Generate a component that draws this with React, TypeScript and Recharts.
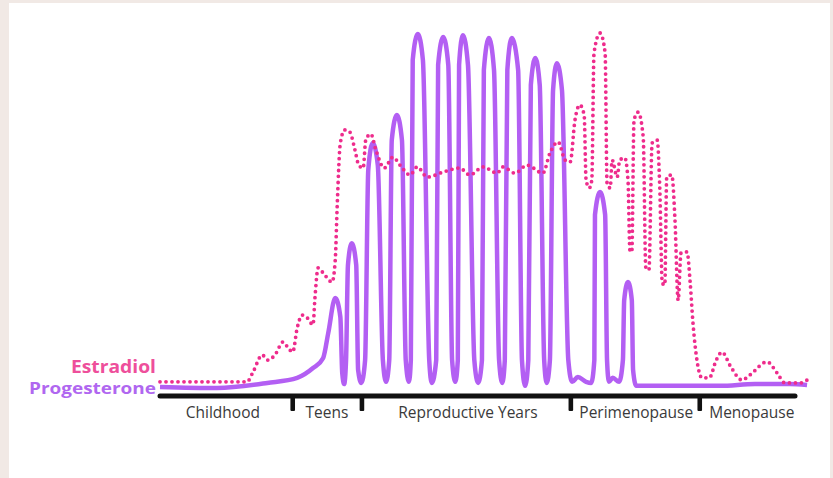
import { LineChart, Line, XAxis, YAxis, ReferenceLine } from "recharts";

// timeline units: 0 = left end of the axis line, 100 = right end of the axis line
// level units: 0 = axis line, 100 = highest peak

// progesterone (solid purple), [time, level]
const progesterone: [number, number][] = [
  [0, 2.5], [9.0, 2.2], [16.9, 3.6], [21.6, 5.0], [24.1, 7.7], [25.7, 10.5],
  [26.5, 17.4], [27.6, 27.0], [28.4, 21.8], [28.7, 6.3], [29.0, 3.3],
  [29.3, 9.9], [29.6, 36.1], [30.2, 42.1], [30.9, 36.1], [31.2, 7.2], [31.7, 3.6],
  [32.3, 9.9], [32.8, 62.3], [33.5, 69.7], [34.3, 63.6], [35.1, 9.9], [35.6, 3.9],
  [36.1, 9.9], [36.5, 70.5], [37.3, 77.4], [38.1, 70.5], [38.7, 9.9], [39.2, 3.9],
  [39.5, 9.9], [39.8, 92.6], [40.6, 99.7], [41.4, 92.6], [42.4, 9.9], [42.8, 3.6],
  [43.5, 9.9], [43.8, 91.2], [44.6, 98.9], [45.4, 91.2], [46.0, 9.9], [46.5, 3.9],
  [46.9, 9.9], [47.1, 91.2], [47.7, 99.4], [48.5, 91.2], [49.5, 9.9], [50.1, 3.6],
  [50.7, 9.9], [51.0, 89.8], [51.8, 98.6], [52.6, 89.8], [53.4, 9.9], [53.9, 3.6],
  [54.3, 9.9], [54.7, 89.8], [55.4, 98.6], [56.4, 89.8], [57.0, 9.9], [57.5, 2.8],
  [58.0, 9.9], [58.4, 85.7], [59.1, 93.1], [59.8, 85.7], [60.5, 9.9], [60.9, 3.6],
  [61.4, 9.9], [61.9, 84.3], [62.5, 91.7], [63.3, 84.3], [64.3, 9.9], [64.9, 3.9],
  [65.8, 5.2], [67.1, 3.9], [67.9, 3.6],
  [68.4, 9.9], [68.5, 49.9], [69.3, 56.2], [70.1, 49.9], [70.4, 9.9], [70.7, 3.9],
  [71.3, 5.0], [72.3, 3.9],
  [72.9, 9.9], [73.1, 26.4], [73.7, 31.4], [74.3, 26.4], [74.5, 7.2], [75.0, 2.8],
  [81.9, 2.8], [88.2, 2.8], [93.7, 3.3], [99.2, 3.3], [101.9, 3.0],
];

// estradiol (dotted pink), [time, level]
const estradiol: [number, number][] = [
  [0, 3.9], [13.7, 3.9], [14.65, 6.6], [16.1, 11.3], [17.0, 9.9], [18.1, 11.3],
  [19.4, 14.9], [20.2, 13.2], [20.9, 12.1], [21.6, 18.7], [22.4, 22.3], [23.2, 21.5],
  [24.1, 19.6], [24.4, 27.0], [24.9, 35.3], [25.7, 33.9], [27.1, 31.4], [27.6, 37.5],
  [27.9, 52.1], [28.4, 69.7], [29.1, 73.3], [29.9, 72.7], [30.7, 67.8], [31.3, 63.6],
  [32.0, 62.8], [32.4, 70.5], [33.2, 72.2], [34.0, 67.8], [35.3, 62.8], [36.7, 65.8],
  [37.8, 63.6], [39.4, 60.9], [40.5, 63.1], [42.1, 60.3], [44.6, 61.7], [47.2, 62.8],
  [48.8, 60.9], [50.9, 63.1], [53.1, 61.4], [54.0, 63.1], [55.9, 61.4], [57.8, 63.6],
  [60.3, 61.4], [61.4, 66.9], [62.7, 70.0], [63.8, 65.0], [64.6, 64.5], [65.35, 76.0],
  [66.1, 80.2], [66.8, 77.4], [67.1, 59.5], [67.6, 57.3], [68.0, 59.5], [68.35, 94.5],
  [69.3, 100], [70.1, 94.5], [70.4, 58.7], [70.9, 57.3], [71.2, 65.0], [72.0, 60.3],
  [72.4, 65.0], [73.2, 65.6], [73.7, 59.5], [74.0, 40.2], [74.3, 39.7], [74.65, 76.0],
  [75.3, 78.2], [76.1, 71.3], [76.5, 35.5], [77.0, 34.7], [77.5, 69.7], [78.3, 70.5],
  [78.7, 57.6], [79.1, 31.1], [79.5, 30.6], [79.8, 60.3], [80.6, 60.9], [81.1, 48.5],
  [81.6, 26.4], [82.05, 39.4], [83.0, 39.7], [83.5, 31.1], [83.9, 20.9], [84.6, 9.4],
  [85.35, 5.0], [86.5, 5.0], [87.6, 9.9], [88.5, 12.1], [89.9, 8.0], [91.65, 4.4],
  [92.9, 5.8], [95.6, 9.4], [97.2, 6.3], [98.4, 3.6], [100.8, 3.6], [101.9, 4.4],
];

// life stages along the axis
const stageNames = ["Childhood", "Teens", "Reproductive Years", "Perimenopause", "Menopause"];
const stageCenters = [9.9, 26.3, 48.5, 75.0, 93.2];
const stageBounds = [20.9, 31.8, 64.7, 85.0];

const PURPLE = "#b35ff3";
const PINK = "#ee2c8c";

const toRows = (pts: [number, number][]) => pts.map(([x, y]) => ({ x, y }));

const StageTick = (props: any) => {
  const { x, y, payload } = props;
  const v = payload.value;
  if (stageBounds.includes(v)) {
    return <rect x={x - 2.3} y={y - 2} width={4.6} height={17} rx={1} fill="#111" />;
  }
  const i = stageCenters.indexOf(v);
  if (i < 0) return null;
  return (
    <text
      x={x}
      y={y + 22}
      textAnchor="middle"
      fontSize={15.5}
      fontFamily="'Open Sans', sans-serif"
      fill="#3a3a3a"
    >
      {stageNames[i]}
    </text>
  );
};

const seriesLabel = (name: string, color: string, dy: number, size: number, len: number) =>
  (props: any) => {
    if (props.index !== 0) return null;
    return (
      <text
        key={name}
        x={props.x - 4}
        y={props.y + dy}
        textAnchor="end"
        fontSize={size}
        fontWeight={700}
        fontFamily="'Open Sans', sans-serif"
        fill={color}
        textLength={len}
        lengthAdjust="spacingAndGlyphs"
      >
        {name}
      </text>
    );
  };

export default function App() {
  return (
    <div style={{ position: "absolute", left: 0, top: 0, width: 833, height: 478, background: "#f1e9e5" }}>
      <div style={{ position: "absolute", left: 9, top: 3, width: 821, height: 475, background: "#fff" }} />
      <div style={{ position: "absolute", left: 0, top: 0 }}>
        <LineChart width={833} height={478} margin={{ top: 33, right: 25.3, bottom: 22, left: 160 }}>
          <XAxis
            type="number"
            dataKey="x"
            domain={[0, 102]}
            ticks={[...stageBounds, ...stageCenters]}
            interval={0}
            axisLine={false}
            tickLine={false}
            tickSize={0}
            tickMargin={0}
            height={60}
            tick={<StageTick />}
          />
          <YAxis type="number" domain={[0, 100]} hide />
          <ReferenceLine
            segment={[{ x: 0, y: 0 }, { x: 100, y: 0 }]}
            stroke="#111"
            strokeWidth={5}
            strokeLinecap="round"
          />
          <Line
            data={toRows(progesterone)}
            dataKey="y"
            type="monotone"
            stroke={PURPLE}
            strokeWidth={4.5}
            strokeLinejoin="round"
            dot={false}
            isAnimationActive={false}
            label={seriesLabel("Progesterone", "#b067f0", 7, 16, 127)}
          />
          <Line
            data={toRows(estradiol)}
            dataKey="y"
            type="monotone"
            stroke={PINK}
            strokeWidth={3.8}
            strokeDasharray="0 6"
            strokeLinecap="round"
            dot={false}
            isAnimationActive={false}
            label={seriesLabel("Estradiol", "#ee4f9b", -9, 17, 85)}
          />
        </LineChart>
      </div>
    </div>
  );
}
